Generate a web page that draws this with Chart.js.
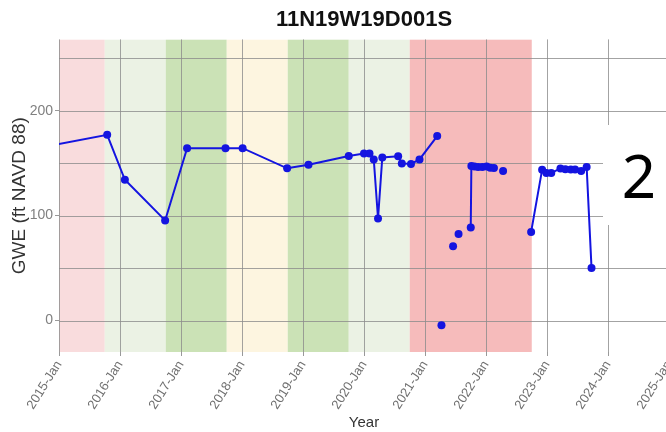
<!DOCTYPE html>
<html>
<head>
<meta charset="utf-8">
<script src="https://cdn.jsdelivr.net/npm/chart.js@4.4.1/dist/chart.umd.min.js"></script>
<style>
html,body{margin:0;padding:0;background:#fff;overflow:hidden;}
#wrap{width:700px;height:432px;}
</style>
</head>
<body>
<div id="wrap"><canvas id="c" width="700" height="432"></canvas></div>
<script>
// ---- data (decimal years; null = break in the line) ----
const sampleYears = [
  2014.79, 2015.79, 2016.08, 2016.74, 2017.10, 2017.73, 2018.01, 2018.74, 2019.09, 2019.75,
  2020.00, 2020.09, 2020.16, 2020.23, 2020.30, 2020.56, 2020.62, 2020.77, 2020.91, 2021.20,
  2021.24, 2021.27, 2021.36, 2021.46, 2021.50, 2021.55, 2021.65,
  2021.75, 2021.76, 2021.81, 2021.87, 2021.94, 2022.01, 2022.07, 2022.13,
  2022.20, 2022.28, 2022.50,
  2022.74, 2022.92, 2022.99, 2023.07, 2023.22, 2023.30, 2023.39, 2023.46, 2023.56, 2023.65, 2023.73
];
const gweValues = [
  166, 177, 134.2, 95.4, 164.3, 164.3, 164.3, 145.1, 148.6, 156.9,
  159.3, 159.3, 153.6, 97.3, 155.5, 156.5, 149.8, 149.3, 153.6, 175.8,
  null, -4.5, null, 70.8, null, 82.6, null,
  88.7, 147.3, 146.9, 146.3, 146.3, 146.9, 145.6, 145.3,
  null, 142.6, null,
  84.5, 143.8, 140.7, 140.7, 145.0, 144.1, 144.0, 144.0, 142.6, 146.4, 50
];
// drought-category background bands (water years)
const bandStarts = [2014.75, 2015.75, 2016.75, 2017.75, 2018.75, 2019.75, 2020.75];
const bandEnds   = [2015.75, 2016.75, 2017.75, 2018.75, 2019.75, 2020.75, 2022.75];
const bandColors = ['#f9dcdd', '#ebf2e4', '#cbe2b6', '#fdf5e0', '#cbe2b6', '#ebf2e4', '#f6bbbb'];
const xTickYears = [2015, 2016, 2017, 2018, 2019, 2020, 2021, 2022, 2023, 2024, 2025];
const yGridValues = [0, 50, 100, 150, 200, 250];
const yTickValues = [0, 100, 200];

const points = sampleYears.map((x, i) => ({x: x, y: gweValues[i]}));
const FONT = '"Liberation Sans", Arial, sans-serif';

const bandPlugin = {
  id: 'bands',
  beforeDatasetsDraw(chart) {
    const {ctx, chartArea: a, scales: {x}} = chart;
    ctx.save();
    ctx.beginPath();
    ctx.rect(a.left, a.top, a.right - a.left, a.bottom - a.top);
    ctx.clip();
    for (let i = 0; i < bandStarts.length; i++) {
      const x0 = x.getPixelForValue(bandStarts[i]);
      const x1 = x.getPixelForValue(bandEnds[i]);
      ctx.fillStyle = bandColors[i];
      ctx.fillRect(x0, a.top, x1 - x0, a.bottom - a.top);
    }
    ctx.restore();
  }
};
const gridOver = {
  id: 'gridOver',
  beforeDatasetsDraw(chart) {
    const {ctx, chartArea: a, scales: {x, y}} = chart;
    ctx.save();
    ctx.strokeStyle = 'rgba(140,140,140,0.8)';
    ctx.lineWidth = 1;
    x.ticks.forEach(t => {
      const px = Math.round(x.getPixelForValue(t.value)) + 0.5;
      ctx.beginPath(); ctx.moveTo(px, a.top); ctx.lineTo(px, a.bottom); ctx.stroke();
    });
    y.ticks.forEach(t => {
      const py = Math.round(y.getPixelForValue(t.value)) + 0.5;
      ctx.beginPath(); ctx.moveTo(a.left, py); ctx.lineTo(a.right, py); ctx.stroke();
    });
    ctx.restore();
  }
};
const overlay = {
  id: 'overlay',
  afterDraw(chart) {
    const ctx = chart.ctx;
    ctx.save();
    ctx.fillStyle = '#ffffff';
    ctx.fillRect(603, 125, 70, 100);
    ctx.fillStyle = '#000000';
    ctx.font = '60px "Noto Sans", "Open Sans", sans-serif';
    ctx.textAlign = 'center';
    ctx.textBaseline = 'alphabetic';
    ctx.fillText('2', 639, 198);
    ctx.restore();
  }
};

new Chart(document.getElementById('c'), {
  type: 'line',
  data: {
    datasets: [{
      data: points,
      borderColor: '#1414e0',
      backgroundColor: '#1414e0',
      borderWidth: 2,
      pointRadius: 4,
      pointHoverRadius: 4,
      pointBorderWidth: 0,
      spanGaps: false,
      tension: 0
    }]
  },
  options: {
    responsive: false,
    animation: false,
    layout: {padding: {left: 0, right: 31, top: 0, bottom: 0}},
    plugins: {
      legend: {display: false},
      tooltip: {enabled: false},
      title: {
        display: true,
        text: '11N19W19D001S',
        fullSize: false,
        color: '#111',
        font: {family: FONT, size: 22, weight: 'bold'},
        padding: {top: 7, bottom: 6}
      }
    },
    scales: {
      x: {
        type: 'linear',
        min: 2015,
        max: 2025,
        afterBuildTicks(s) { s.ticks = xTickYears.map(v => ({value: v})); },
        afterFit(s) { s.height = 80; },
        ticks: {
          callback: v => v + '-Jan',
          maxRotation: 58,
          minRotation: 58,
          color: '#707070',
          font: {family: FONT, size: 13},
          padding: 2
        },
        grid: {color: 'rgba(0,0,0,0)', tickColor: '#999', tickLength: 4, drawOnChartArea: false},
        border: {display: false},
        title: {
          display: true, text: 'Year', color: '#333',
          font: {family: FONT, size: 15},
          padding: {top: 0, bottom: 0}
        }
      },
      y: {
        min: -30,
        max: 268,
        afterBuildTicks(s) { s.ticks = yGridValues.map(v => ({value: v})); },
        afterFit(s) { s.width = 59; },
        ticks: {
          callback: v => yTickValues.includes(v) ? String(v) : '',
          color: '#808080',
          font: {family: FONT, size: 14},
          padding: 2
        },
        grid: {color: 'rgba(0,0,0,0)', tickColor: ctx => yTickValues.includes(ctx.tick && ctx.tick.value) ? '#999' : 'rgba(0,0,0,0)', tickLength: 4, drawOnChartArea: false},
        border: {display: false},
        title: {
          display: true, text: 'GWE (ft NAVD 88)', color: '#333',
          font: {family: FONT, size: 19},
          padding: {top: 8, bottom: 0}
        }
      }
    }
  },
  plugins: [bandPlugin, gridOver, overlay]
});
</script>
</body>
</html>
